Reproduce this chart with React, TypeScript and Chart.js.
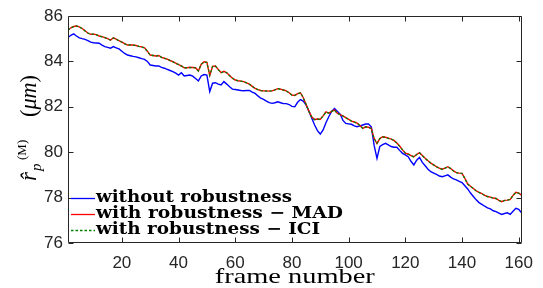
import React, { useEffect, useRef } from "react";
import { Chart, registerables } from "chart.js";

Chart.register(...registerables);

const N = 161;
const frames = Array.from({ length: N }, (_, i) => i + 1);

const withoutRobustness = [
  85.05, 85.15, 85.21, 85.12, 85.04, 85.0, 84.97, 84.92, 84.85, 84.82,
  84.81, 84.8, 84.72, 84.65, 84.62, 84.58, 84.65, 84.6, 84.55, 84.45,
  84.35, 84.28, 84.25, 84.22, 84.2, 84.16, 84.12, 84.09, 84.0, 83.84,
  83.82, 83.8, 83.8, 83.74, 83.7, 83.65, 83.6, 83.55, 83.48, 83.4,
  83.5, 83.36, 83.38, 83.4, 83.35, 83.25, 83.14, 83.36, 83.42, 83.4,
  82.67, 83.04, 83.06, 83.0, 82.96, 83.11, 83.0, 82.88, 82.78, 82.76,
  82.74, 82.72, 82.71, 82.72, 82.72, 82.65, 82.59, 82.48, 82.38, 82.33,
  82.25, 82.18, 82.15, 82.18, 82.22, 82.18, 82.14, 82.14, 82.1, 82.02,
  82.0, 82.2, 82.32, 82.25, 82.08, 81.8, 81.5, 81.2, 80.95, 80.8,
  80.98, 81.3, 81.56, 81.8, 81.93, 81.8, 81.68, 81.4, 81.27, 81.25,
  81.23, 81.16, 81.12, 81.16, 81.2, 81.24, 81.24, 81.12, 80.3, 79.73,
  80.25, 80.33, 80.39, 80.32, 80.25, 80.22, 80.22, 80.08, 79.95, 79.88,
  79.8, 79.6, 79.44, 79.65, 79.77, 79.55, 79.4, 79.25, 79.14, 79.08,
  79.02, 78.95, 78.92, 78.96, 79.0, 78.9, 78.82, 78.78, 78.72, 78.66,
  78.52, 78.38, 78.2, 78.05, 77.9, 77.78, 77.7, 77.62, 77.55, 77.5,
  77.42, 77.38, 77.32, 77.26, 77.3, 77.33, 77.26, 77.4, 77.53, 77.48,
  77.33,
];

const withRobustnessMAD = [
  85.38, 85.48, 85.54, 85.56, 85.52, 85.45, 85.35, 85.25, 85.19, 85.2,
  85.18, 85.12, 85.09, 85.05, 85.0, 84.94, 85.04, 84.98, 84.91, 84.85,
  84.78, 84.72, 84.73, 84.72, 84.7, 84.66, 84.64, 84.6, 84.45, 84.28,
  84.26, 84.24, 84.26, 84.18, 84.14, 84.1, 84.04, 83.99, 83.92, 83.86,
  83.8, 83.72, 83.72, 83.74, 83.73, 83.72, 83.58, 83.88, 83.98, 83.96,
  83.38, 83.78, 83.8, 83.65, 83.5, 83.56, 83.5, 83.38, 83.26, 83.18,
  83.15, 83.13, 83.11, 83.05, 83.0, 82.9, 82.81, 82.76, 82.72, 82.7,
  82.7, 82.69, 82.7, 82.75, 82.8, 82.78, 82.74, 82.7, 82.62, 82.52,
  82.5, 82.58, 82.62, 82.4, 82.1, 81.8, 81.55, 81.44, 81.46, 81.45,
  81.6, 81.78, 81.72, 81.8, 81.86, 81.72, 81.66, 81.6, 81.52, 81.45,
  81.37, 81.33, 81.28, 81.18, 81.05, 81.12, 81.1, 81.05, 80.6, 80.38,
  80.6, 80.68, 80.66, 80.62, 80.58, 80.52, 80.4, 80.27, 80.1, 79.96,
  79.92, 79.85, 79.8, 79.9, 79.98, 79.85, 79.73, 79.62, 79.52, 79.44,
  79.36, 79.3, 79.25, 79.3, 79.36, 79.28, 79.18, 79.1, 79.08, 79.07,
  78.85, 78.6, 78.5, 78.4, 78.3, 78.23, 78.18, 78.1, 78.05, 78.02,
  77.98, 77.96, 77.88, 77.82, 77.88, 77.89, 77.92, 78.1, 78.23, 78.2,
  78.11,
];

const withRobustnessICI = [
  85.37, 85.48, 85.53, 85.56, 85.51, 85.45, 85.34, 85.25, 85.2, 85.2,
  85.17, 85.12, 85.08, 85.05, 84.99, 84.94, 85.03, 84.98, 84.9, 84.85,
  84.77, 84.72, 84.73, 84.71, 84.7, 84.66, 84.63, 84.6, 84.44, 84.28,
  84.26, 84.23, 84.26, 84.18, 84.13, 84.1, 84.04, 83.98, 83.92, 83.86,
  83.79, 83.72, 83.72, 83.73, 83.73, 83.71, 83.58, 83.87, 83.98, 83.95,
  83.39, 83.77, 83.8, 83.64, 83.5, 83.55, 83.5, 83.37, 83.26, 83.18,
  83.14, 83.13, 83.1, 83.05, 82.99, 82.9, 82.8, 82.76, 82.71, 82.7,
  82.69, 82.69, 82.7, 82.74, 82.8, 82.77, 82.74, 82.69, 82.62, 82.51,
  82.5, 82.57, 82.62, 82.4, 82.1, 81.79, 81.55, 81.43, 81.46, 81.44,
  81.6, 81.77, 81.72, 81.79, 81.86, 81.71, 81.66, 81.59, 81.52, 81.44,
  81.37, 81.32, 81.28, 81.17, 81.05, 81.11, 81.1, 81.04, 80.6, 80.39,
  80.6, 80.67, 80.66, 80.61, 80.58, 80.51, 80.4, 80.26, 80.1, 79.96,
  79.91, 79.85, 79.79, 79.9, 79.97, 79.85, 79.72, 79.62, 79.51, 79.44,
  79.35, 79.3, 79.24, 79.3, 79.35, 79.28, 79.17, 79.1, 79.07, 79.07,
  78.84, 78.6, 78.49, 78.4, 78.29, 78.23, 78.17, 78.1, 78.04, 78.02,
  77.97, 77.96, 77.87, 77.82, 77.87, 77.89, 77.91, 78.1, 78.22, 78.2,
  78.1,
];

const xTicks = [20, 40, 60, 80, 100, 120, 140, 160];
const yTicks = [76, 78, 80, 82, 84, 86];
const legendLabels = [
  "without robustness",
  "with robustness \u2212 MAD",
  "with robustness \u2212 ICI",
];
const xTitle = "frame number";

const AXIS = "#262626";

function fitText(
  ctx: CanvasRenderingContext2D,
  text: string,
  x: number,
  y: number,
  font: string,
  width: number,
  align: "left" | "center"
) {
  ctx.save();
  ctx.font = font;
  const w = ctx.measureText(text).width;
  const sx = width / w;
  ctx.translate(x, y);
  ctx.scale(sx, 1);
  ctx.textAlign = align;
  ctx.textBaseline = "alphabetic";
  ctx.fillText(text, 0, 0);
  ctx.restore();
}

const decorPlugin = {
  id: "decor",
  afterDraw(chart: any) {
    const { ctx, chartArea: a, scales } = chart;
    const xs = scales.x;
    const ys = scales.y;
    ctx.save();
    // box
    ctx.strokeStyle = AXIS;
    ctx.lineWidth = 1;
    const L = Math.round(a.left) + 0.5;
    const R = Math.round(a.right) - 0.5;
    const T = Math.round(a.top) + 0.5;
    const B = Math.round(a.bottom) - 0.5;
    ctx.beginPath();
    ctx.moveTo(L, T);
    ctx.lineTo(R, T);
    ctx.lineTo(R, B);
    ctx.lineTo(L, B);
    ctx.closePath();
    ctx.stroke();
    // inward ticks
    ctx.beginPath();
    for (const v of xTicks) {
      const px = Math.round(xs.getPixelForValue(v)) + 0.5;
      ctx.moveTo(px, B);
      ctx.lineTo(px, B - 5);
      ctx.moveTo(px, T);
      ctx.lineTo(px, T + 5);
    }
    for (const v of yTicks) {
      const py = Math.round(ys.getPixelForValue(v)) + 0.5;
      ctx.moveTo(L, py);
      ctx.lineTo(L + 5, py);
      ctx.moveTo(R, py);
      ctx.lineTo(R - 5, py);
    }
    ctx.stroke();

    // legend
    const colors = ["#0000ff", "#ff0000", "#008000"];
    const widths = [196, 247, 224];
    const rowY = [198, 214, 230];
    for (let i = 0; i < 3; i++) {
      ctx.save();
      ctx.strokeStyle = colors[i];
      ctx.lineWidth = 1.3;
      if (i === 2) ctx.setLineDash([2.5, 2]);
      ctx.beginPath();
      ctx.moveTo(a.left + 3, rowY[i] + 0.5);
      ctx.lineTo(a.left + 27, rowY[i] + 0.5);
      ctx.stroke();
      ctx.restore();
      ctx.fillStyle = "#000";
      fitText(
        ctx,
        legendLabels[i],
        a.left + 28,
        rowY[i] + 4,
        "bold 16px 'DejaVu Serif'",
        widths[i],
        "left"
      );
    }

    // x title
    ctx.fillStyle = "#000";
    fitText(
      ctx,
      xTitle,
      (a.left + a.right) / 2,
      283,
      "21px 'Liberation Serif'",
      160,
      "center"
    );

    // y title (rotated)
    ctx.save();
    ctx.translate(36, 181);
    ctx.rotate(-Math.PI / 2);
    ctx.fillStyle = "#000";
    ctx.textAlign = "left";
    ctx.textBaseline = "alphabetic";
    ctx.font = "italic 23px 'Liberation Serif'";
    ctx.fillText("r\u0302", 0, 0);
    ctx.font = "italic 15px 'Liberation Serif'";
    ctx.fillText("p", 10, 5);
    ctx.font = "13px 'Liberation Serif'";
    ctx.fillText("(M)", 21, -10);
    // (μm) fitted to its width
    ctx.save();
    ctx.translate(64, 0);
    ctx.font = "24px 'Liberation Serif'";
    const wP = ctx.measureText("(").width;
    const wP2 = ctx.measureText(")").width;
    ctx.font = "italic 24px 'Liberation Serif'";
    const wM = ctx.measureText("\u03bcm").width;
    const total = wP + wM + wP2;
    ctx.scale(42 / total, 1);
    ctx.font = "24px 'Liberation Serif'";
    ctx.fillText("(", 0, 0);
    ctx.font = "italic 24px 'Liberation Serif'";
    ctx.fillText("\u03bcm", wP, 0);
    ctx.font = "24px 'Liberation Serif'";
    ctx.fillText(")", wP + wM, 0);
    ctx.restore();
    ctx.restore();

    ctx.restore();
  },
};

export default function App() {
  const ref = useRef<HTMLCanvasElement | null>(null);

  useEffect(() => {
    if (!ref.current) return;
    const toPts = (arr: number[]) => frames.map((f, i) => ({ x: f, y: arr[i] }));
    const chart = new Chart(ref.current, {
      type: "line",
      data: {
        datasets: [
          {
            label: legendLabels[0],
            data: toPts(withoutRobustness),
            borderColor: "#0000ff",
            borderWidth: 1.4,
            pointRadius: 0,
            tension: 0,
            order: 3,
          },
          {
            label: legendLabels[1],
            data: toPts(withRobustnessMAD),
            borderColor: "#ff0000",
            borderWidth: 1.4,
            pointRadius: 0,
            tension: 0,
            order: 2,
          },
          {
            label: legendLabels[2],
            data: toPts(withRobustnessICI),
            borderColor: "#008000",
            borderWidth: 1.3,
            borderDash: [2.5, 2],
            pointRadius: 0,
            tension: 0,
            order: 1,
          },
        ],
      },
      options: {
        responsive: false,
        animation: false,
        devicePixelRatio: 1,
        layout: { padding: { top: 16, right: 17, left: 0, bottom: 0 } },
        plugins: {
          legend: { display: false },
          tooltip: { enabled: false },
        },
        scales: {
          x: {
            type: "linear",
            min: 1,
            max: 161,
            grid: { display: false, drawTicks: false },
            border: { display: false },
            afterBuildTicks: (s: any) => {
              s.ticks = xTicks.map((v) => ({ value: v }));
            },
            afterFit: (s: any) => {
              s.height = 45;
            },
            ticks: {
              color: AXIS,
              padding: 10,
              maxRotation: 0,
              autoSkip: false,
              font: { family: "'Liberation Sans'", size: 17 },
            },
          },
          y: {
            type: "linear",
            min: 76,
            max: 86,
            grid: { display: false, drawTicks: false },
            border: { display: false },
            afterBuildTicks: (s: any) => {
              s.ticks = yTicks.map((v) => ({ value: v }));
            },
            afterFit: (s: any) => {
              s.width = 68;
            },
            ticks: {
              color: AXIS,
              padding: 5,
              font: { family: "'Liberation Sans'", size: 17 },
            },
          },
        },
      },
      plugins: [decorPlugin],
    });
    return () => chart.destroy();
  }, []);

  return (
    <div style={{ position: "absolute", left: 0, top: 0, width: 543, height: 288, background: "#fff" }}>
      <canvas ref={ref} width={543} height={288} style={{ display: "block" }} />
    </div>
  );
}
